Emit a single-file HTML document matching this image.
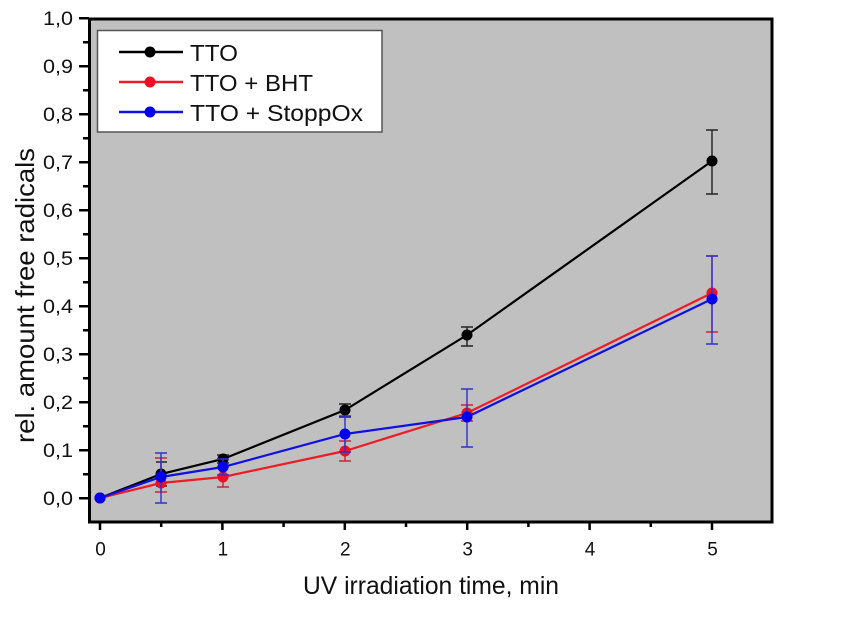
<!DOCTYPE html>
<html><head><meta charset="utf-8"><style>
html,body{margin:0;padding:0;background:#fff;}
svg{display:block;}
text{font-family:"Liberation Sans",Arial,sans-serif;fill:#111;}
</style></head><body>
<svg width="866" height="627" viewBox="0 0 866 627" xmlns="http://www.w3.org/2000/svg">
<rect x="0" y="0" width="866" height="627" fill="#fff"/>
<!-- plot area -->
<rect x="89.5" y="19" width="682.5" height="503" fill="#c0c0c0"/>

<!-- Error bars TTO (black) -->
<g stroke="#222" stroke-width="1.4" fill="none">
<path d="M161 462V486M156 462H167M156 486H167"/>
<path d="M223 455V463M217 455H229M217 463H229"/>
<path d="M345 404V417M339 404H351M339 417H351"/>
<path d="M467 327V346M461 327H473M461 346H473"/>
<path d="M712 130V194M706 130H718M706 194H718"/>
</g>
<polyline points="100,498 161,474 223,459 345,410 467,335 712,161" fill="none" stroke="#000" stroke-width="2.2"/>
<g fill="#000">
<circle cx="100" cy="498" r="5.5"/><circle cx="161" cy="474" r="5.5"/><circle cx="223" cy="459" r="5.5"/><circle cx="345" cy="410" r="5.5"/><circle cx="467" cy="335" r="5.5"/><circle cx="712" cy="161" r="5.5"/>
</g>

<!-- Error bars BHT (red) -->
<g stroke="#d0203a" stroke-width="1.4" fill="none">
<path d="M161 458V492M155 458H167M155 492H167"/>
<path d="M223 467V487M217 467H229M217 487H229"/>
<path d="M345 441V461M339 441H351M339 461H351"/>
<path d="M467 405V421M461 405H473M461 421H473"/>
<path d="M712 256V332M706 256H718M706 332H718"/>
</g>
<polyline points="100,498 161,483 223,477 345,451 467,413 712,293" fill="none" stroke="#ee1c24" stroke-width="2.2"/>
<g fill="#ee1022">
<circle cx="100" cy="498" r="5.5"/><circle cx="161" cy="483" r="5.5"/><circle cx="223" cy="477" r="5.5"/><circle cx="345" cy="451" r="5.5"/><circle cx="467" cy="413" r="5.5"/><circle cx="712" cy="293" r="5.5"/>
</g>

<!-- Error bars StoppOx (blue) -->
<g stroke="#3030d0" stroke-width="1.4" fill="none">
<path d="M161 453V503M155 453H167M155 503H167"/>
<path d="M223 459V475M217 459H229M217 475H229"/>
<path d="M345 416V452M339 416H351M339 452H351"/>
<path d="M467 389V447M461 389H473M461 447H473"/>
<path d="M712 256V344M706 256H718M706 344H718"/>
</g>
<polyline points="100,498 161,477 223,467 345,434 467,417 712,299" fill="none" stroke="#1010e0" stroke-width="2.2"/>
<g fill="#0000ee">
<circle cx="100" cy="498" r="5.5"/><circle cx="161" cy="477" r="5.5"/><circle cx="223" cy="467" r="5.5"/><circle cx="345" cy="434" r="5.5"/><circle cx="467" cy="417" r="5.5"/><circle cx="712" cy="299" r="5.5"/>
</g>

<!-- frame -->
<rect x="89.5" y="19" width="682.5" height="503" fill="none" stroke="#000" stroke-width="3"/>

<!-- y ticks -->
<g stroke="#000" stroke-width="2.5">
<path d="M79 498.3H89M79 450.3H89M79 402.3H89M79 354.3H89M79 306.3H89M79 258.3H89M79 210.3H89M79 162.3H89M79 114.3H89M79 66.3H89M79 18.3H89"/>
<path d="M83 474.3H89M83 426.3H89M83 378.3H89M83 330.3H89M83 282.3H89M83 234.3H89M83 186.3H89M83 138.3H89M83 90.3H89M83 42.3H89"/>
</g>
<!-- x ticks -->
<g stroke="#000" stroke-width="2.5">
<path d="M100 522V530M222.4 522V530M344.8 522V530M467.2 522V530M589.6 522V530M712 522V530"/>
<path d="M161.2 522V527M283.6 522V527M406 522V527M528.4 522V527M650.8 522V527"/>
</g>

<!-- y tick labels -->
<g font-size="19" text-anchor="end">
<text x="73" y="505" textLength="30" lengthAdjust="spacingAndGlyphs">0,0</text>
<text x="73" y="457" textLength="30" lengthAdjust="spacingAndGlyphs">0,1</text>
<text x="73" y="409" textLength="30" lengthAdjust="spacingAndGlyphs">0,2</text>
<text x="73" y="361" textLength="30" lengthAdjust="spacingAndGlyphs">0,3</text>
<text x="73" y="313" textLength="30" lengthAdjust="spacingAndGlyphs">0,4</text>
<text x="73" y="265" textLength="30" lengthAdjust="spacingAndGlyphs">0,5</text>
<text x="73" y="217" textLength="30" lengthAdjust="spacingAndGlyphs">0,6</text>
<text x="73" y="169" textLength="30" lengthAdjust="spacingAndGlyphs">0,7</text>
<text x="73" y="121" textLength="30" lengthAdjust="spacingAndGlyphs">0,8</text>
<text x="73" y="73" textLength="30" lengthAdjust="spacingAndGlyphs">0,9</text>
<text x="73" y="25" textLength="30" lengthAdjust="spacingAndGlyphs">1,0</text>
</g>
<!-- x tick labels -->
<g font-size="19" text-anchor="middle">
<text x="100.5" y="555.5">0</text>
<text x="222.9" y="555.5">1</text>
<text x="345.3" y="555.5">2</text>
<text x="467.7" y="555.5">3</text>
<text x="590.1" y="555.5">4</text>
<text x="712.5" y="555.5">5</text>
</g>

<!-- axis titles -->
<text x="303" y="594" font-size="25" textLength="256" lengthAdjust="spacingAndGlyphs">UV irradiation time, min</text>
<text transform="translate(34,443) rotate(-90)" x="0" y="0" font-size="26" textLength="295" lengthAdjust="spacingAndGlyphs">rel. amount free radicals</text>

<!-- legend -->
<rect x="97.5" y="30.5" width="284.5" height="101.5" fill="#fff" stroke="#555" stroke-width="1.5"/>
<g stroke-width="2.6">
<line x1="119" y1="52" x2="183" y2="52" stroke="#000"/>
<line x1="119" y1="82" x2="183" y2="82" stroke="#ee1c24"/>
<line x1="119" y1="112" x2="183" y2="112" stroke="#1010e0"/>
</g>
<circle cx="150" cy="52" r="5.5" fill="#000"/>
<circle cx="150" cy="82" r="5.5" fill="#ee1022"/>
<circle cx="150" cy="112" r="5.5" fill="#0000ee"/>
<g font-size="23">
<text x="190" y="61" textLength="48" lengthAdjust="spacingAndGlyphs">TTO</text>
<text x="190" y="91" textLength="123" lengthAdjust="spacingAndGlyphs">TTO + BHT</text>
<text x="190" y="121" textLength="173" lengthAdjust="spacingAndGlyphs">TTO + StoppOx</text>
</g>
</svg>
</body></html>
